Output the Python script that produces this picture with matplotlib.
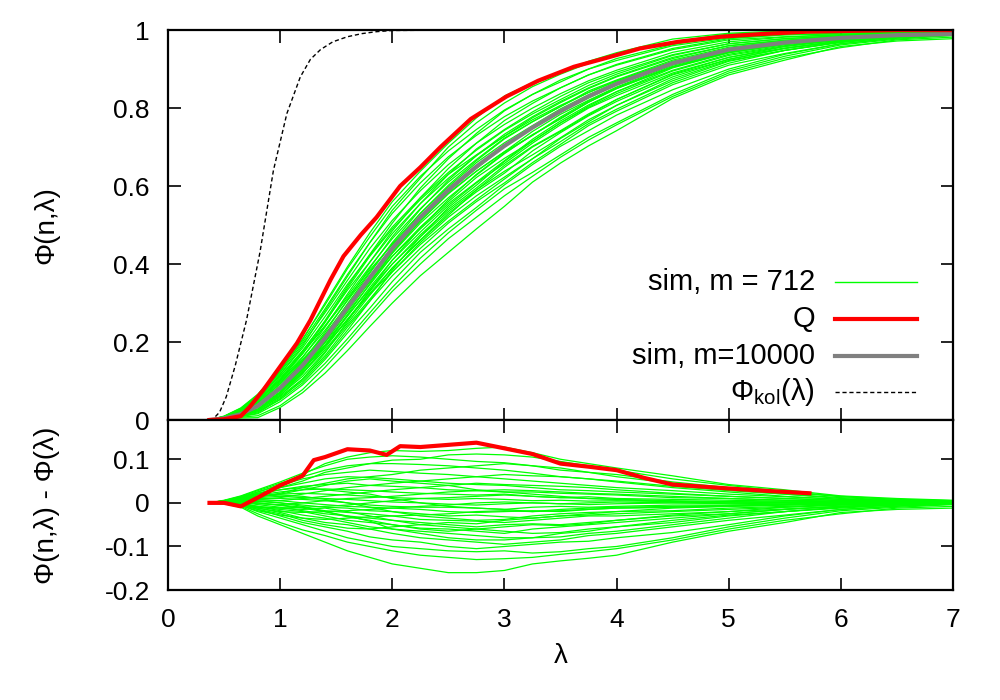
import matplotlib
matplotlib.use("Agg")
import matplotlib.pyplot as plt
import numpy as np

plt.rcParams['font.family'] = ['Liberation Sans', 'DejaVu Sans']
plt.rcParams['mathtext.fontset'] = 'custom'
plt.rcParams['mathtext.rm'] = 'Liberation Sans'
plt.rcParams['mathtext.it'] = 'Liberation Sans'

lam = [0.37, 0.5, 0.65, 0.8, 1.0, 1.2, 1.4, 1.6, 1.8, 2.0, 2.25, 2.5,
       2.75, 3.0, 3.25, 3.5, 3.75, 4.0, 4.5, 5.0, 5.5, 6.0, 6.5, 7.0]

# sim, m=10000 (grey reference curve)
phi_ref = [0.0, 0.004, 0.015, 0.036, 0.082, 0.14, 0.21, 0.288, 0.365, 0.44,
           0.52, 0.59, 0.65, 0.703, 0.75, 0.792, 0.83, 0.862, 0.915, 0.95,
           0.968, 0.98, 0.987, 0.990]

# Q, difference to the reference (lower panel)
q_lam = [0.37, 0.5, 0.65, 0.8, 1.0, 1.2, 1.3, 1.4, 1.6, 1.8, 1.95, 2.07, 2.25,
         2.5, 2.75, 3.0, 3.25, 3.5, 3.75, 4.0, 4.25, 4.5, 5.0, 5.3, 5.72]
q_diff = [0.0, 0.0, -0.008, 0.012, 0.04, 0.062, 0.098, 0.105, 0.123, 0.12,
          0.11, 0.13, 0.128, 0.133, 0.138, 0.125, 0.112, 0.09, 0.083, 0.075,
          0.057, 0.042, 0.033, 0.028, 0.022]
# Q, cumulative (upper panel)
q_top_lam = [0.37, 0.5, 0.65, 0.73, 0.85, 1.0, 1.15, 1.27, 1.36, 1.45, 1.565,
             1.72, 1.86, 2.07, 2.25, 2.43, 2.7, 3.02, 3.3, 3.62, 3.9, 4.21,
             4.55, 4.93, 5.3, 5.7, 6.5, 7.0]
q_top = [0.0, 0.002, 0.01, 0.034, 0.077, 0.137, 0.197, 0.256, 0.308, 0.36,
         0.42, 0.475, 0.52, 0.6, 0.648, 0.70, 0.772, 0.83, 0.87, 0.906, 0.928,
         0.953, 0.97, 0.983, 0.99, 0.996, 1.0, 1.0]

# Phi_kol(lambda)
kol_lam = [0.0, 0.3, 0.4, 0.46, 0.52, 0.6, 0.7, 0.82, 0.94, 1.06, 1.18, 1.27,
           1.36, 1.47, 1.6, 1.73, 1.86, 2.0, 2.5, 7.0]
kol_val = [0.0, 0.0, 0.002, 0.02, 0.06, 0.14, 0.256, 0.43, 0.64, 0.786, 0.88,
           0.925, 0.95, 0.97, 0.983, 0.991, 0.996, 0.999, 1.0, 1.0]

# sim, m = 712 : individual runs, difference to reference
sim_diff = [
    [0, -0.002, -0.01, -0.03, -0.05, -0.07, -0.09, -0.11, -0.125, -0.14, -0.15, -0.16, -0.16, -0.155, -0.14, -0.133, -0.127, -0.12, -0.09, -0.065, -0.045, -0.022, -0.015, -0.012],
    [0, -0.002, -0.008, -0.025, -0.045, -0.062, -0.075, -0.09, -0.1, -0.11, -0.12, -0.125, -0.13, -0.128, -0.125, -0.118, -0.112, -0.105, -0.085, -0.06, -0.04, -0.025, -0.012, -0.008],
    [0, 0, -0.006, -0.02, -0.035, -0.05, -0.065, -0.08, -0.09, -0.1, -0.105, -0.11, -0.112, -0.11, -0.115, -0.112, -0.105, -0.1, -0.08, -0.055, -0.035, -0.018, -0.01, -0.004],
    [0, 0.002, -0.004, -0.015, -0.03, -0.045, -0.055, -0.065, -0.078, -0.085, -0.09, -0.1, -0.105, -0.1, -0.095, -0.09, -0.088, -0.08, -0.068, -0.05, -0.03, -0.015, -0.008, -0.003],
    [0, 0.001, -0.003, -0.012, -0.022, -0.035, -0.045, -0.05, -0.06, -0.07, -0.08, -0.085, -0.09, -0.095, -0.09, -0.085, -0.075, -0.07, -0.055, -0.04, -0.028, -0.015, -0.007, -0.002],
    [0, 0.002, 0.0, -0.008, -0.018, -0.028, -0.035, -0.045, -0.055, -0.06, -0.065, -0.07, -0.075, -0.08, -0.08, -0.078, -0.07, -0.065, -0.05, -0.035, -0.02, -0.012, -0.005, -0.002],
    [0, 0.001, -0.002, -0.01, -0.015, -0.02, -0.03, -0.04, -0.045, -0.05, -0.06, -0.065, -0.06, -0.065, -0.07, -0.068, -0.06, -0.055, -0.045, -0.03, -0.02, -0.01, -0.004, 0.0],
    [0, 0.002, 0.002, -0.004, -0.01, -0.018, -0.025, -0.03, -0.035, -0.04, -0.045, -0.05, -0.055, -0.05, -0.048, -0.05, -0.045, -0.04, -0.03, -0.025, -0.015, -0.008, -0.003, 0.0],
    [0, 0.003, 0.004, 0.0, -0.005, -0.01, -0.018, -0.022, -0.025, -0.03, -0.038, -0.04, -0.042, -0.045, -0.04, -0.035, -0.03, -0.03, -0.025, -0.02, -0.01, -0.005, -0.002, 0.001],
    [0, 0.002, 0.005, 0.003, 0.0, -0.005, -0.01, -0.012, -0.018, -0.02, -0.025, -0.03, -0.028, -0.032, -0.035, -0.03, -0.025, -0.02, -0.018, -0.012, -0.008, -0.004, -0.001, 0.0],
    [0, 0.003, 0.006, 0.008, 0.005, 0.0, -0.004, -0.008, -0.01, -0.012, -0.015, -0.02, -0.022, -0.02, -0.018, -0.02, -0.015, -0.012, -0.01, -0.008, -0.005, -0.002, 0.0, 0.001],
    [0, 0.002, 0.006, 0.01, 0.01, 0.008, 0.005, 0.0, -0.005, -0.008, -0.01, -0.01, -0.012, -0.015, -0.01, -0.008, -0.01, -0.008, -0.005, -0.005, -0.003, -0.001, 0.0, 0.001],
    [0, 0.003, 0.008, 0.012, 0.015, 0.012, 0.01, 0.008, 0.005, 0.002, 0.0, -0.003, -0.005, -0.002, 0.0, -0.002, -0.004, -0.002, 0.0, 0.0, 0.001, 0.0, 0.001, 0.002],
    [0, 0.003, 0.01, 0.015, 0.02, 0.022, 0.02, 0.018, 0.015, 0.012, 0.01, 0.008, 0.01, 0.008, 0.005, 0.006, 0.004, 0.005, 0.003, 0.002, 0.002, 0.001, 0.001, 0.002],
    [0, 0.004, 0.01, 0.018, 0.025, 0.03, 0.032, 0.03, 0.028, 0.025, 0.022, 0.02, 0.018, 0.02, 0.015, 0.012, 0.014, 0.01, 0.008, 0.006, 0.004, 0.002, 0.002, 0.003],
    [0, 0.004, 0.012, 0.02, 0.03, 0.038, 0.042, 0.045, 0.04, 0.038, 0.035, 0.03, 0.028, 0.025, 0.025, 0.022, 0.02, 0.018, 0.012, 0.01, 0.006, 0.004, 0.003, 0.003],
    [0, 0.004, 0.012, 0.022, 0.035, 0.045, 0.055, 0.06, 0.058, 0.055, 0.05, 0.045, 0.042, 0.04, 0.035, 0.03, 0.028, 0.025, 0.02, 0.015, 0.01, 0.006, 0.004, 0.004],
    [0, 0.005, 0.014, 0.025, 0.04, 0.055, 0.065, 0.07, 0.075, 0.072, 0.068, 0.065, 0.06, 0.055, 0.05, 0.045, 0.04, 0.035, 0.028, 0.02, 0.014, 0.008, 0.005, 0.004],
    [0, 0.005, 0.015, 0.028, 0.045, 0.06, 0.075, 0.085, 0.09, 0.09, 0.088, 0.085, 0.08, 0.075, 0.068, 0.06, 0.055, 0.05, 0.038, 0.028, 0.02, 0.012, 0.006, 0.005],
    [0, 0.006, 0.016, 0.03, 0.048, 0.068, 0.085, 0.1, 0.105, 0.108, 0.105, 0.1, 0.095, 0.092, 0.085, 0.075, 0.07, 0.065, 0.048, 0.035, 0.025, 0.014, 0.008, 0.005],
    [0, 0.005, 0.012, 0.025, 0.042, 0.065, 0.09, 0.105, 0.115, 0.12, 0.118, 0.12, 0.125, 0.128, 0.115, 0.1, 0.09, 0.08, 0.062, 0.042, 0.03, 0.016, 0.01, 0.006],
    [0, 0.004, 0.01, 0.02, 0.035, 0.05, 0.07, 0.08, 0.09, 0.098, 0.1, 0.11, 0.112, 0.11, 0.105, 0.095, 0.085, 0.075, 0.055, 0.04, 0.026, 0.015, 0.008, 0.004],
    [0, 0.003, 0.008, 0.015, 0.022, 0.035, 0.045, 0.055, 0.06, 0.065, 0.075, 0.08, 0.085, 0.09, 0.085, 0.08, 0.07, 0.06, 0.045, 0.03, 0.02, 0.01, 0.005, 0.003],
    [0, 0.002, 0.005, 0.008, 0.012, 0.02, 0.028, 0.035, 0.04, 0.045, 0.05, 0.055, 0.06, 0.065, 0.062, 0.06, 0.055, 0.048, 0.035, 0.025, 0.015, 0.008, 0.004, 0.002],
    [0, 0.002, 0.003, 0.004, 0.005, 0.01, 0.015, 0.02, 0.025, 0.03, 0.035, 0.04, 0.045, 0.042, 0.04, 0.038, 0.035, 0.03, 0.022, 0.015, 0.01, 0.005, 0.002, 0.001],
    [0, 0.001, 0.0, -0.002, -0.004, 0.0, 0.005, 0.01, 0.012, 0.015, 0.02, 0.025, 0.028, 0.03, 0.028, 0.025, 0.022, 0.02, 0.015, 0.01, 0.006, 0.003, 0.001, 0.0],
    [0, 0.0, -0.004, -0.01, -0.012, -0.01, -0.008, -0.005, 0.0, 0.005, 0.01, 0.012, 0.015, 0.018, 0.015, 0.012, 0.01, 0.008, 0.005, 0.003, 0.002, 0.0, 0.0, 0.0],
    [0, 0.001, -0.005, -0.012, -0.02, -0.022, -0.02, -0.018, -0.015, -0.012, -0.008, -0.005, 0.0, 0.002, 0.0, -0.002, 0.0, 0.002, 0.0, -0.002, -0.002, -0.001, 0.0, 0.0],
    [0, 0.0, -0.006, -0.018, -0.028, -0.035, -0.038, -0.035, -0.032, -0.03, -0.028, -0.025, -0.02, -0.018, -0.02, -0.015, -0.012, -0.01, -0.008, -0.006, -0.004, -0.002, -0.001, 0.0],
    [0, 0.001, -0.004, -0.015, -0.025, -0.04, -0.05, -0.058, -0.06, -0.055, -0.05, -0.045, -0.048, -0.04, -0.035, -0.03, -0.028, -0.025, -0.02, -0.015, -0.01, -0.005, -0.002, -0.001],
    [0, 0.003, 0.006, 0.005, 0.0, -0.008, -0.02, -0.032, -0.04, -0.05, -0.058, -0.06, -0.065, -0.07, -0.06, -0.055, -0.05, -0.045, -0.035, -0.025, -0.015, -0.008, -0.003, -0.001],
    [0, 0.004, 0.01, 0.015, 0.018, 0.015, 0.008, 0.0, -0.01, -0.02, -0.03, -0.035, -0.04, -0.038, -0.03, -0.025, -0.022, -0.02, -0.012, -0.008, -0.005, -0.002, 0.0, 0.0],
    [0, 0.005, 0.012, 0.022, 0.03, 0.035, 0.03, 0.025, 0.02, 0.01, 0.0, -0.008, -0.012, -0.015, -0.02, -0.018, -0.015, -0.012, -0.01, -0.006, -0.004, -0.002, -0.001, 0.0],
    [0, 0.003, 0.008, 0.014, 0.02, 0.03, 0.04, 0.05, 0.055, 0.05, 0.045, 0.04, 0.03, 0.025, 0.02, 0.015, 0.01, 0.008, 0.002, 0.0, -0.003, -0.002, -0.002, -0.001],
    [0, 0.002, -0.002, -0.008, -0.012, -0.015, -0.012, -0.02, -0.03, -0.04, -0.05, -0.055, -0.06, -0.055, -0.05, -0.052, -0.048, -0.04, -0.028, -0.02, -0.014, -0.008, -0.004, -0.002],
    [0, 0.002, 0.003, 0.0, -0.006, -0.012, -0.02, -0.03, -0.042, -0.06, -0.07, -0.08, -0.085, -0.085, -0.08, -0.07, -0.065, -0.055, -0.04, -0.028, -0.02, -0.01, -0.005, -0.002],
]

GREEN = '#00ff00'
RED = '#ff0000'
GREY = '#808080'

fig = plt.figure(figsize=(10, 7), dpi=100)
ax1 = fig.add_axes([0.168, 0.4, 0.785, 0.557])
ax2 = fig.add_axes([0.168, 0.157, 0.785, 0.243], sharex=ax1)

lam_arr = np.array(lam)
ref_arr = np.array(phi_ref)

# upper panel
for d in sim_diff:
    ax1.plot(lam_arr, ref_arr + np.array(d), color=GREEN, lw=0.9)
ax1.plot(kol_lam, kol_val, color='black', lw=1.0, dashes=(3, 2))
ax1.plot(lam, phi_ref, color=GREY, lw=3.0)
ax1.plot(q_top_lam, q_top, color=RED, lw=3.0)

# lower panel
for d in sim_diff:
    ax2.plot(lam, d, color=GREEN, lw=0.9)
ax2.plot(q_lam, q_diff, color=RED, lw=3.0)

ax1.set_xlim(0, 7)
ax1.set_ylim(0, 1)
ax1.set_yticks([0, 0.2, 0.4, 0.6, 0.8, 1])
ax1.set_yticklabels(['0', '0.2', '0.4', '0.6', '0.8', '1'])
ax2.set_ylim(-0.2, 0.19)
ax2.set_yticks([-0.2, -0.1, 0, 0.1])
ax2.set_yticklabels(['-0.2', '-0.1', '0', '0.1'])
ax2.set_xticks(range(8))
ax1.tick_params(labelbottom=False)

for ax in (ax1, ax2):
    ax.tick_params(direction='in', length=9, width=1.2, top=True, right=True,
                   labelsize=19, pad=13)
    for sp in ax.spines.values():
        sp.set_linewidth(1.6)

ax1.set_ylabel('Φ(n,λ)', fontsize=20)
ax1.yaxis.set_label_coords(-0.138, 0.5)
ax2.set_ylabel('Φ(n,λ) - Φ(λ)', fontsize=20)
ax2.yaxis.set_label_coords(-0.138, 0.5)
ax2.set_xlabel('λ', fontsize=20, labelpad=8)

# gnuplot-style key: right-aligned text, sample line to the right
key = [('sim, m = 712', GREEN, 1.0, None),
       ('Q', RED, 3.0, None),
       ('sim, m=10000', GREY, 3.0, None),
       (r'$\mathrm{Φ_{kol}(λ)}$', 'black', 1.0, (3, 2))]
rows = [0.355, 0.259, 0.164, 0.073]
for (label, col, lw, dash), y in zip(key, rows):
    ax1.text(0.824, y, label, transform=ax1.transAxes, ha='right', va='center',
             fontsize=21)
    ln, = ax1.plot([0.85, 0.954], [y, y], transform=ax1.transAxes, color=col, lw=lw)
    if dash:
        ln.set_dashes(dash)

fig.savefig('out.png', dpi=100)
